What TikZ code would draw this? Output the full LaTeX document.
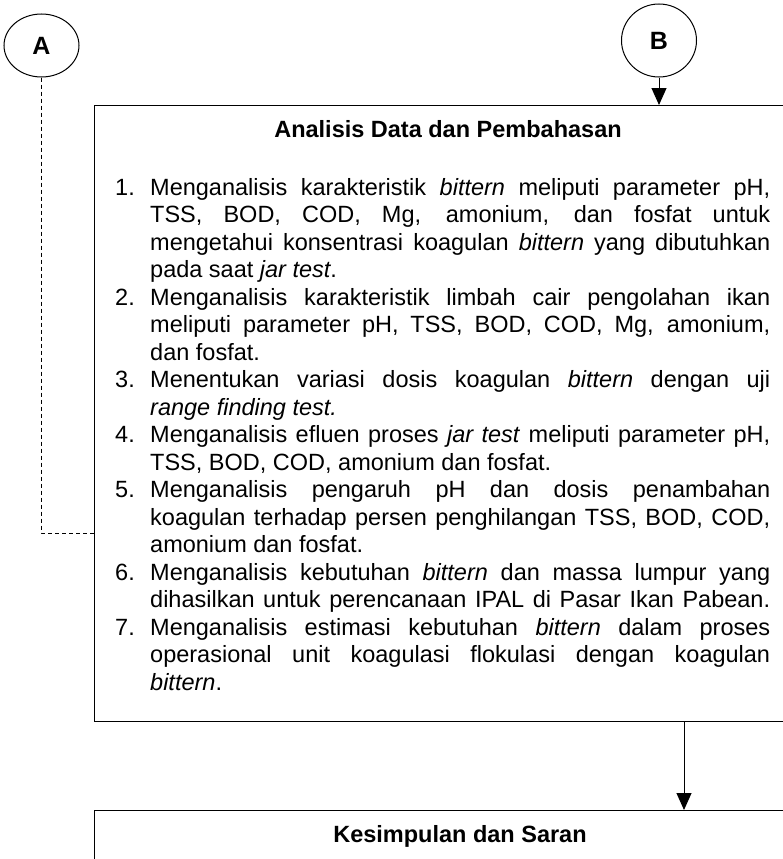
\documentclass[tikz,border=0pt]{standalone}
\usepackage{fontspec}
\setmainfont{Liberation Sans}
\usetikzlibrary{arrows.meta,positioning,shapes.geometric}

\newcommand{\butir}[2]{\par\noindent\hangindent=35pt\hangafter=1\makebox[35pt][l]{\strut#1}#2}
\newcommand{\huruf}[1]{\fontsize{25}{28}\selectfont\bfseries #1}

\begin{document}
\begin{tikzpicture}[x=1pt,y=-1pt,
    every node/.style={font=\fontsize{23.5}{27.5}\selectfont},
    konektor/.style={draw,ellipse,line width=1pt,minimum width=75pt,inner sep=0pt},
    proses/.style={draw,rectangle,line width=1pt,inner sep=0pt,anchor=north west},
    panah/.style={-{Triangle[width=15pt,length=17pt]},line width=1pt}]
      \useasboundingbox (0,0) rectangle (782,859);
      \coordinate (kolom) at (684,0);
      \coordinate (sambung) at (0,533);

      % KONEKTOR
      \node[konektor,minimum height=63pt] (A) at (41.5,45.5) {\huruf{A}};
      \node[konektor,minimum height=73pt] (B) at (659,40.5) {\huruf{B}};

      % ANALISIS DATA
      \node[proses,minimum width=708pt,minimum height=615.7pt] (analisis) at (94,105) {};
      \node[anchor=base] (judul) at (448,137) {\bfseries Analisis Data dan Pembahasan};
      \node[anchor=north west,inner sep=0pt,text width=655pt,align=justify] (daftar) at (115,167.75) {%
        \hyphenpenalty=10000 \exhyphenpenalty=10000 \sloppy
        \butir{1.}{Menganalisis karakteristik \textit{bittern} meliputi parameter pH,\linebreak TSS, BOD, COD, Mg, amonium, dan fosfat untuk\linebreak mengetahui konsentrasi koagulan \textit{bittern} yang dibutuhkan\linebreak pada saat \textit{jar test}.}
        \butir{2.}{Menganalisis karakteristik limbah cair pengolahan ikan\linebreak meliputi parameter pH, TSS, BOD, COD, Mg, amonium,\linebreak dan fosfat.}
        \butir{3.}{Menentukan variasi dosis koagulan \textit{bittern} dengan uji\linebreak \textit{range finding test.}}
        \butir{4.}{Menganalisis efluen proses \textit{jar test} meliputi parameter pH,\linebreak TSS, BOD, COD, amonium dan fosfat.}
        \butir{5.}{Menganalisis pengaruh pH dan dosis penambahan\linebreak koagulan terhadap persen penghilangan TSS, BOD, COD,\linebreak amonium dan fosfat.}
        \butir{6.}{Menganalisis kebutuhan \textit{bittern} dan massa lumpur yang\linebreak dihasilkan untuk perencanaan IPAL di Pasar Ikan Pabean.{\parfillskip=0pt\par}}
        \butir{7.}{Menganalisis estimasi kebutuhan \textit{bittern} dalam proses\linebreak operasional unit koagulasi flokulasi dengan koagulan\linebreak \textit{bittern}.}\par};

      % KESIMPULAN
      \node[proses,minimum width=733pt,minimum height=100pt] (kesimpulan) at (94,810) {};
      \node[anchor=base] (judul2) at (460,842) {\bfseries Kesimpulan dan Saran};

      % PANAH
      \draw[panah] (B.south) -- (B.south |- analisis.north);
      \draw[panah] (analisis.south -| kolom) -- (kesimpulan.north -| kolom);
      \draw[dash pattern=on 4pt off 3pt,line width=0.8pt] (A.south) |- (analisis.west |- sambung);
    \end{tikzpicture}
\end{document}
